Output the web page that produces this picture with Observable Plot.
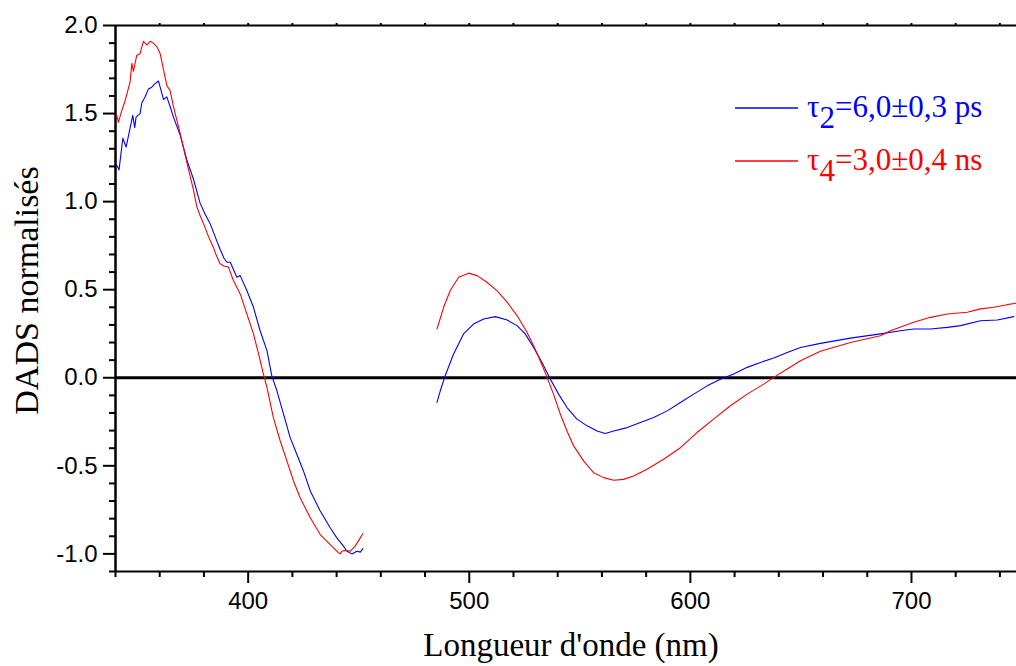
<!DOCTYPE html>
<html><head><meta charset="utf-8">
<script src="https://cdn.jsdelivr.net/npm/d3@7"></script>
<script src="https://cdn.jsdelivr.net/npm/@observablehq/plot@0.6"></script>
<style>body{margin:0;background:#fff;overflow:hidden}#chart{position:relative;width:1016px;height:666px}</style>
</head><body><div id="chart"></div>
<script>
// ---- Data ----
const seriesLabels = [
  {sym: "τ", sub: "2", rest: "=6,0±0,3 ps", color: "#0000ff"},
  {sym: "τ", sub: "4", rest: "=3,0±0,4 ns", color: "#ff0000"}
];
const xTitle = "Longueur d'onde (nm)";
const yTitle = "DADS normalisés";

// tau2 (blue), UV segment
const blueUVx = [340.6,341.6,343.3,344.8,346.3,347.8,348.7,349.3,351.1,351.9,353.4,354.9,356.4,357.9,359.4,360.2,361.7,363.2,364.7,366.2,369.2,372.3,375.2,378.3,380.5,382.8,385.1,387.3,389.0,390.4,391.9,394.9,396.4,399.4,402.4,405.4,408.5,410.7,413.0,416.0,419.0,422.0,425.0,428.1,432.6,437.1,440.1,443.1,444.7,446.9,449.2,450.7,451.9];
const blueUVy = [1.207,1.18,1.36,1.31,1.40,1.49,1.42,1.48,1.50,1.56,1.595,1.64,1.65,1.67,1.685,1.65,1.58,1.595,1.54,1.48,1.38,1.235,1.13,0.99,0.93,0.875,0.80,0.73,0.68,0.656,0.656,0.571,0.58,0.495,0.40,0.267,0.154,0.011,-0.074,-0.207,-0.34,-0.434,-0.529,-0.643,-0.757,-0.852,-0.909,-0.956,-0.985,-1.0,-0.985,-0.99,-0.97];
// tau2 (blue), visible segment
const blueVisx = [485.4,486.9,489.1,492.9,497.4,501.9,506.5,511.8,517.1,521.6,525.3,529.1,532.9,536.7,540.4,544.2,548.7,553.3,557.8,561.5,565.3,571.4,577.4,583.4,589.5,595.5,601.5,607.6,613.6,619.6,625.7,631.7,637.7,643.8,649.8,658.8,672.4,686.0,695.0,701.0,708.6,716.2,722.2,731.2,738.8,746.3];
const blueVisy = [-0.14,-0.074,0.011,0.135,0.249,0.305,0.334,0.347,0.328,0.296,0.249,0.172,0.087,-0.008,-0.093,-0.169,-0.235,-0.273,-0.302,-0.317,-0.302,-0.283,-0.254,-0.226,-0.188,-0.14,-0.093,-0.046,-0.008,0.021,0.059,0.087,0.112,0.144,0.172,0.195,0.225,0.249,0.267,0.277,0.277,0.286,0.296,0.324,0.328,0.347];

// tau4 (red), UV segment
const redUVx = [340.6,341.3,342.9,344.3,346.6,347.4,348.1,349.6,351.1,352.6,354.2,355.7,357.1,358.7,360.2,361.7,363.2,364.7,366.2,369.2,372.3,375.2,376.8,378.3,379.8,382.1,384.3,385.3,387.3,389.0,391.1,393.3,396.4,399.4,402.4,404.7,406.9,408.5,411.4,414.5,417.5,420.5,423.5,428.1,432.6,437.1,440.9,441.6,442.4,443.9,446.2,448.4,450.7,451.9];
const redUVy = [1.49,1.45,1.52,1.57,1.68,1.785,1.74,1.83,1.84,1.91,1.89,1.91,1.90,1.88,1.84,1.75,1.66,1.63,1.54,1.39,1.22,1.07,0.97,0.92,0.875,0.80,0.74,0.704,0.647,0.635,0.628,0.552,0.476,0.363,0.249,0.135,0.021,-0.055,-0.226,-0.359,-0.472,-0.586,-0.681,-0.795,-0.89,-0.947,-0.994,-1.0,-0.985,-0.98,-0.985,-0.956,-0.909,-0.886];
// tau4 (red), visible segment
const redVisx = [485.4,488.4,491.4,495.2,499.7,503.5,508.0,512.5,517.1,521.6,526.1,529.1,532.1,535.2,538.1,541.2,544.2,547.2,551.7,556.2,560.8,565.3,569.8,574.3,580.4,587.9,595.5,603.0,610.5,618.1,625.7,633.2,637.7,643.8,649.8,658.8,672.4,686.0,690.5,701.0,708.6,716.2,725.2,731.2,737.2,743.3,747.1];
const redVisy = [0.277,0.40,0.495,0.571,0.594,0.58,0.542,0.495,0.429,0.353,0.258,0.182,0.097,0.002,-0.093,-0.207,-0.302,-0.387,-0.472,-0.539,-0.567,-0.582,-0.577,-0.558,-0.52,-0.463,-0.397,-0.311,-0.235,-0.159,-0.093,-0.036,0.002,0.05,0.097,0.15,0.20,0.239,0.267,0.315,0.343,0.362,0.372,0.391,0.40,0.415,0.423];

// ticks
const xMajorTicks = [400, 500, 600, 700];
const xMinorTicks = [340,360,380,420,440,460,480,520,540,560,580,620,640,660,680,720,740];
const xTopTicks = [360,380,400,420,440,460,480,500,520,540,560,580,600,620,640,660,680,700,720,740];
const yMajorTicks = [-1.0,-0.5,0.0,0.5,1.0,1.5,2.0];
const yMinorTicks = [-1.1,-0.9,-0.8,-0.7,-0.6,-0.4,-0.3,-0.2,-0.1,0.1,0.2,0.3,0.4,0.6,0.7,0.8,0.9,1.1,1.2,1.3,1.4,1.6,1.7,1.8,1.9];

// ---- Build rows ----
function rows(xs, ys, seg) { return xs.map((x, i) => ({x, y: ys[i], seg})); }
const blueRows = [...rows(blueUVx, blueUVy, "uv"), ...rows(blueVisx, blueVisy, "vis")];
const redRows = [...rows(redUVx, redUVy, "uv"), ...rows(redVisx, redVisy, "vis")];

const serif = "'Liberation Serif', 'Times New Roman', serif";
const sans = "'Liberation Sans', Arial, sans-serif";

const plot = Plot.plot({
  width: 1016, height: 666,
  marginLeft: 115, marginRight: 0, marginTop: 25, marginBottom: 95,
  x: {domain: [340, 747.5], label: null},
  y: {domain: [-1.1, 2.0], label: null},
  style: {fontFamily: sans, fontSize: "24px", color: "#000", background: "#fff", overflow: "hidden"},
  marks: [
    Plot.axisY({ticks: yMinorTicks, tickSize: 6, tickFormat: () => "", strokeWidth: 2, label: null}),
    Plot.axisY({ticks: yMajorTicks, tickSize: 12, tickPadding: 6, tickFormat: d => d.toFixed(1), strokeWidth: 2, label: null, fontSize: 24}),
    Plot.axisX({ticks: xMinorTicks, tickSize: 6, tickFormat: () => "", strokeWidth: 2, label: null}),
    Plot.axisX({ticks: xMajorTicks, tickSize: 12, tickPadding: 8, tickFormat: d => String(d), strokeWidth: 2, label: null, fontSize: 24}),
    Plot.axisX({anchor: "top", ticks: xTopTicks, tickSize: 3, tickFormat: () => "", strokeWidth: 2, label: null}),
    Plot.ruleY([0], {stroke: "#000", strokeWidth: 3}),
    Plot.ruleY([2.0, -1.1], {stroke: "#000", strokeWidth: 2}),
    Plot.ruleX([340], {stroke: "#000", strokeWidth: 2.5}),
    Plot.line(blueRows, {x: "x", y: "y", z: "seg", stroke: "#0000ff", strokeWidth: 1.1}),
    Plot.line(redRows, {x: "x", y: "y", z: "seg", stroke: "#ff0000", strokeWidth: 1.1}),
    Plot.text([xTitle], {frameAnchor: "bottom", dx: 5, dy: 74, lineAnchor: "middle", textAnchor: "middle", fontSize: 33, fontFamily: serif}),
    Plot.text([yTitle], {frameAnchor: "left", rotate: -90, dx: -88, dy: -8, lineAnchor: "middle", textAnchor: "middle", fontSize: 34, fontFamily: serif})
  ]
});
document.getElementById("chart").appendChild(plot);

// ---- Legend (with subscripts) ----
const svg = d3.select(plot);
const lg = svg.append("g").attr("font-family", serif).attr("font-size", 31).attr("text-anchor", "start");
seriesLabels.forEach((s, i) => {
  const y0 = 108 + i * 53;
  lg.append("line").attr("x1", 735).attr("x2", 798).attr("y1", y0).attr("y2", y0)
    .attr("stroke", s.color).attr("stroke-width", 1.3);
  const t = lg.append("text").attr("x", 807).attr("y", y0 + 9).attr("fill", s.color).attr("text-anchor", "start");
  t.append("tspan").text(s.sym);
  t.append("tspan").attr("dy", 11).text(s.sub);
  t.append("tspan").attr("dy", -11).text(s.rest);
});
</script>
</body></html>
